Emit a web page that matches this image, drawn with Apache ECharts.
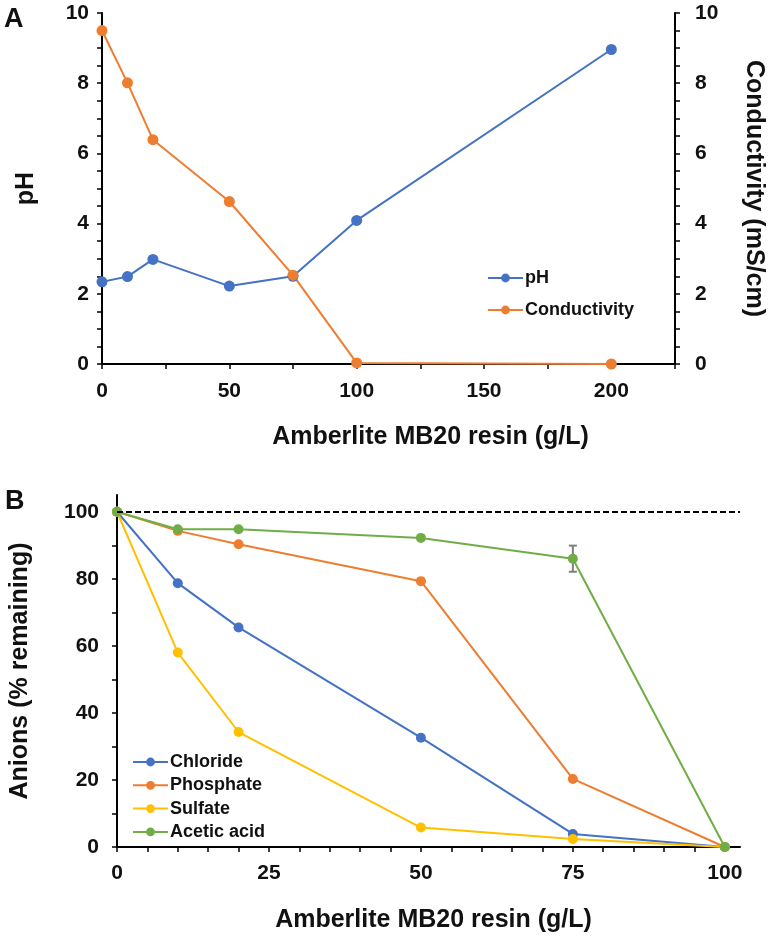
<!DOCTYPE html>
<html>
<head>
<meta charset="utf-8">
<script src="https://cdn.jsdelivr.net/npm/echarts@6/dist/echarts.min.js"></script>
<style>
html,body{margin:0;padding:0;background:#fff;}
#chart{width:774px;height:938px;}
</style>
</head>
<body>
<div id="chart"></div>
<script>
// ---------- Panel A data ----------
var resinA = [0, 10, 20, 50, 75, 100, 200];
var phValues = [2.34, 2.49, 2.98, 2.22, 2.50, 4.09, 8.96];
var conductivityValues = [9.50, 8.01, 6.39, 4.63, 2.53, 0.03, 0.00];
var aXTicks = [0, 25, 50, 75, 100, 125, 150, 175, 200, 225];
var aXLabels = [0, 50, 100, 150, 200];
var aYTicks = [0, 0.5, 1, 1.5, 2, 2.5, 3, 3.5, 4, 4.5, 5, 5.5, 6, 6.5, 7, 7.5, 8, 8.5, 9, 9.5, 10];
var aYLabels = [0, 2, 4, 6, 8, 10];

// ---------- Panel B data ----------
var resinB = [0, 10, 20, 50, 75, 100];
var chlorideValues = [100, 78.7, 65.5, 32.6, 3.9, 0];
var phosphateValues = [100, 94.3, 90.3, 79.3, 20.3, 0];
var sulfateValues = [100, 58.0, 34.3, 5.8, 2.4, 0];
var aceticValues = [100, 94.8, 94.8, 92.2, 86.0, 0];
var aceticErrorX = [75];
var aceticErrorY = [86.0];
var aceticErrorSize = [3.9];
var bXTicks = [0, 5, 10, 15, 20, 25, 30, 35, 40, 45, 50, 55, 60, 65, 70, 75, 80, 85, 90, 95, 100];
var bXLabels = [0, 25, 50, 75, 100];
var bYTicks = [0, 10, 20, 30, 40, 50, 60, 70, 80, 90, 100];
var bYLabels = [0, 20, 40, 60, 80, 100];
var referenceLevel = 100;

var FONT = '"Liberation Sans", Arial, sans-serif';
var BLUE = '#4472C4', ORANGE = '#ED7D31', GOLD = '#FFC000', GREEN = '#70AD47';
var TXT = '#111';

function pairs(xs, ys) { return xs.map(function (x, i) { return [x, ys[i]]; }); }

var axisLine = { show: true, onZero: false, lineStyle: { color: '#000', width: 2 } };
function tickCfg(vals) { return { show: true, inside: false, length: 5, customValues: vals, lineStyle: { color: '#000', width: 1.5 } }; }
function labelCfg(vals, margin) {
  return { show: true, customValues: vals, margin: margin, color: TXT, fontFamily: FONT, fontWeight: 'bold', fontSize: 21 };
}
var nameStyle = { color: TXT, fontFamily: FONT, fontWeight: 'bold', fontSize: 25 };

function lineSeries(name, xs, ys, color, xi, yi, size) {
  return {
    name: name, type: 'line', xAxisIndex: xi, yAxisIndex: yi,
    data: pairs(xs, ys), symbol: 'circle', symbolSize: size, clip: false,
    lineStyle: { color: color, width: 2 }, itemStyle: { color: color },
    emphasis: { disabled: true }, animation: false
  };
}

var chart = echarts.init(document.getElementById('chart'), null, { renderer: 'canvas' });
var option = {
  backgroundColor: '#fff',
  animation: false,
  textStyle: { fontFamily: FONT },
  graphic: [
    { type: 'text', left: 4, top: 6, style: { text: 'A', font: 'bold 27px ' + FONT, fill: TXT } },
    { type: 'text', left: 5, top: 488, style: { text: 'B', font: 'bold 27px ' + FONT, fill: TXT } }
  ],
  grid: [
    { left: 102, top: 13, width: 580, height: 351, containLabel: false },
    { left: 108, top: 495, width: 632, height: 352, containLabel: false }
  ],
  legend: [
    {
      data: ['pH', 'Conductivity'], orient: 'vertical', left: 482, top: 263,
      itemWidth: 35, itemHeight: 11, itemGap: 12,
      textStyle: { color: TXT, fontFamily: FONT, fontWeight: 'bold', fontSize: 18, lineHeight: 20, padding: [0, 0, 0, -3] }
    },
    {
      data: ['Chloride', 'Phosphate', 'Sulfate', 'Acetic acid'], orient: 'vertical', left: 127, top: 747,
      itemWidth: 35, itemHeight: 11, itemGap: 3.3,
      textStyle: { color: TXT, fontFamily: FONT, fontWeight: 'bold', fontSize: 18, lineHeight: 20, padding: [0, 0, 0, -3] }
    }
  ],
  xAxis: [
    {
      type: 'value', gridIndex: 0, min: 0, max: 225,
      axisLine: axisLine, axisTick: tickCfg(aXTicks), axisLabel: labelCfg(aXLabels, 17),
      splitLine: { show: false },
      name: 'Amberlite MB20 resin (g/L)', nameLocation: 'middle', nameGap: 61,
      nameTextStyle: Object.assign({}, nameStyle, { padding: [0, 0, 0, 84] })
    },
    {
      type: 'value', gridIndex: 1, min: 0, max: 102.5,
      axisLine: axisLine, axisTick: tickCfg(bXTicks), axisLabel: labelCfg(bXLabels, 16),
      splitLine: { show: false },
      name: 'Amberlite MB20 resin (g/L)', nameLocation: 'middle', nameGap: 61,
      nameTextStyle: Object.assign({}, nameStyle, { padding: [0, 0, 0, 10] })
    }
  ],
  yAxis: [
    {
      type: 'value', gridIndex: 0, position: 'left', min: 0, max: 10,
      axisLine: axisLine, axisTick: tickCfg(aYTicks), axisLabel: labelCfg(aYLabels, 13),
      splitLine: { show: false },
      name: 'pH', nameLocation: 'middle', nameGap: 63, nameTextStyle: nameStyle
    },
    {
      type: 'value', gridIndex: 0, position: 'right', min: 0, max: 10,
      axisLine: axisLine, axisTick: tickCfg(aYTicks), axisLabel: labelCfg(aYLabels, 20),
      splitLine: { show: false },
      name: 'Conductivity (mS/cm)', nameLocation: 'middle', nameGap: 66, nameRotate: -90, nameTextStyle: nameStyle
    },
    {
      type: 'value', gridIndex: 1, position: 'left', min: 0, max: 105,
      axisLine: axisLine, axisTick: tickCfg(bYTicks), axisLabel: labelCfg(bYLabels, 18),
      splitLine: { show: false },
      name: 'Anions (% remaining)', nameLocation: 'middle', nameGap: 84, nameTextStyle: nameStyle
    }
  ],
  series: [
    lineSeries('pH', resinA, phValues, BLUE, 0, 0, 11),
    lineSeries('Conductivity', resinA, conductivityValues, ORANGE, 0, 1, 11),
    Object.assign(lineSeries('Chloride', resinB, chlorideValues, BLUE, 1, 2, 10), {
      markLine: {
        silent: true, symbol: 'none', animation: false,
        label: { show: false },
        lineStyle: { color: '#000', width: 2, type: [6, 3] },
        data: [[{ coord: [0, referenceLevel] }, { coord: [102.5, referenceLevel] }]]
      }
    }),
    lineSeries('Phosphate', resinB, phosphateValues, ORANGE, 1, 2, 10),
    lineSeries('Sulfate', resinB, sulfateValues, GOLD, 1, 2, 10),
    lineSeries('Acetic acid', resinB, aceticValues, GREEN, 1, 2, 10),
    {
      type: 'custom', xAxisIndex: 1, yAxisIndex: 2, silent: true, z: 1,
      data: aceticErrorX.map(function (x, i) { return [x, aceticErrorY[i], aceticErrorSize[i]]; }),
      renderItem: function (params, api) {
        var x = api.value(0), y = api.value(1), e = api.value(2);
        var top = api.coord([x, y + e]);
        var bot = api.coord([x, y - e]);
        var w = 4;
        var st = { stroke: '#7f7f7f', lineWidth: 2 };
        return {
          type: 'group', children: [
            { type: 'line', shape: { x1: top[0], y1: top[1], x2: bot[0], y2: bot[1] }, style: st },
            { type: 'line', shape: { x1: top[0] - w, y1: top[1], x2: top[0] + w, y2: top[1] }, style: st },
            { type: 'line', shape: { x1: bot[0] - w, y1: bot[1], x2: bot[0] + w, y2: bot[1] }, style: st }
          ]
        };
      },
      animation: false
    }
  ]
};
chart.setOption(option);
</script>
</body>
</html>
